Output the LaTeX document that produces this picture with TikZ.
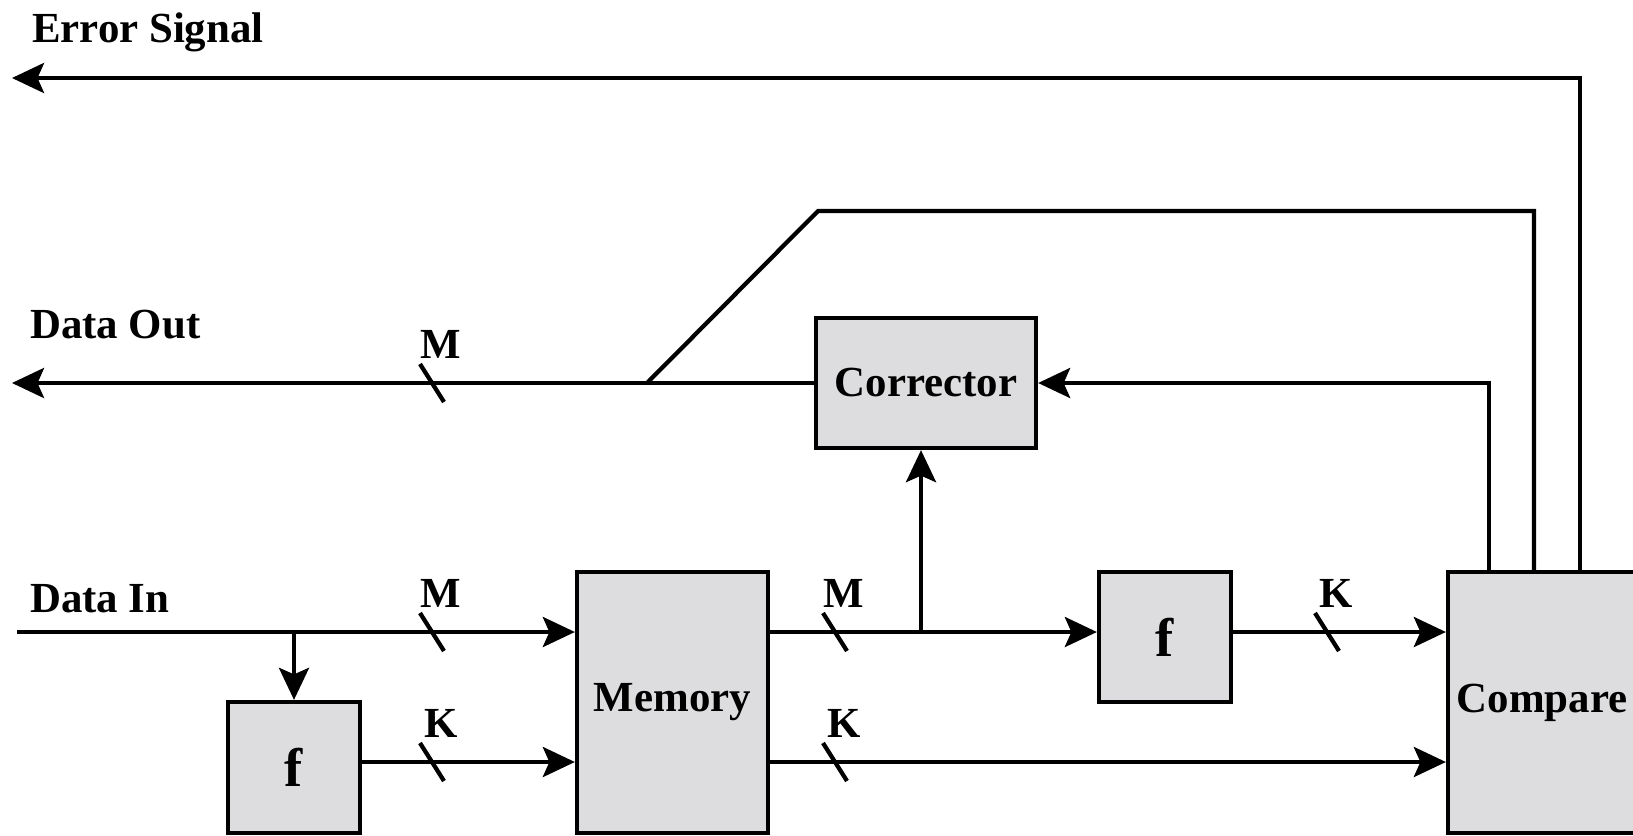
\documentclass[tikz,border=0pt]{standalone}
\usepackage{fontspec}
\setmainfont{Liberation Serif}
\usetikzlibrary{arrows.meta}
\definecolor{boxgray}{RGB}{221,221,223}
\tikzset{
	block/.style={draw,fill=boxgray,inner sep=0pt},
	tag/.style={anchor=base west,inner sep=0pt},
	buslbl/.style={anchor=base,inner sep=0pt}
}
\begin{document}
\begin{tikzpicture}[x=0.2mm,y=-0.2mm,line width=0.85mm,
	>={Stealth[length=6.4mm,width=6mm,inset=1.3mm]},
	font=\fontsize{24.4}{28}\selectfont\bfseries]
	\def\big{\fontsize{31}{34}\selectfont\bfseries}
	\useasboundingbox (0,0) rectangle (1633,835);
	\node[block,minimum width=44mm,minimum height=26mm] (corr) at (926,383) {Corrector};
	\node[block,minimum width=38.2mm,minimum height=52.2mm] (mem) at (672.5,702.5) {Memory};
	\node[block,minimum width=26.4mm,minimum height=26.2mm,font=\big] (fin) at (294,767.5) {f};
	\node[block,minimum width=26.4mm,minimum height=26mm,font=\big] (fout) at (1165,637) {f};
	\node[block,minimum width=37.6mm,minimum height=52.2mm] (cmp) at (1542,702.5) {Compare};
	\node[tag] (errlbl) at (30,42) {Error Signal};
	\node[tag] (outlbl) at (28,338) {Data Out};
	\node[tag] (inlbl) at (28,612) {Data In};
	\coordinate (in) at (17,632);
	\coordinate (split) at (294,632);
	\coordinate (tap) at (921,632);
	\coordinate (dout) at (12,383);
	\coordinate (merge) at (647,383);
	\coordinate (bend) at (818,211);
	\coordinate (err) at (12,78);
	\draw[->] (in) -- (mem.west |- in);
	\draw[->] (split) -- (fin.north);
	\draw[->] (fin.east |- 0,762) -- (mem.west |- 0,762);
	\draw[->] (mem.east |- in) -- (fout.west |- in);
	\draw[->] (tap) -- (corr.south -| tap);
	\draw[->] (fout.east |- in) -- (cmp.west |- in);
	\draw[->] (mem.east |- 0,762) -- (cmp.west |- 0,762);
	\draw[->] (cmp.north -| 1489,0) |- (corr.east);
	\draw (cmp.north -| 1534,0) |- (bend) -- (merge);
	\draw[->] (corr.west) -- (dout);
	\draw[->] (cmp.north -| 1580,0) |- (err);
	\foreach \x/\y/\t [count=\i] in {432/383/M,432/632/M,432/762/K,835/632/M,835/762/K,1327/632/K}{
		\draw (\x-12,\y-19) -- (\x+12,\y+19);
		\node[buslbl] (bus\i) at (\x+9,\y-25) {\t};
	}
\end{tikzpicture}
\end{document}
